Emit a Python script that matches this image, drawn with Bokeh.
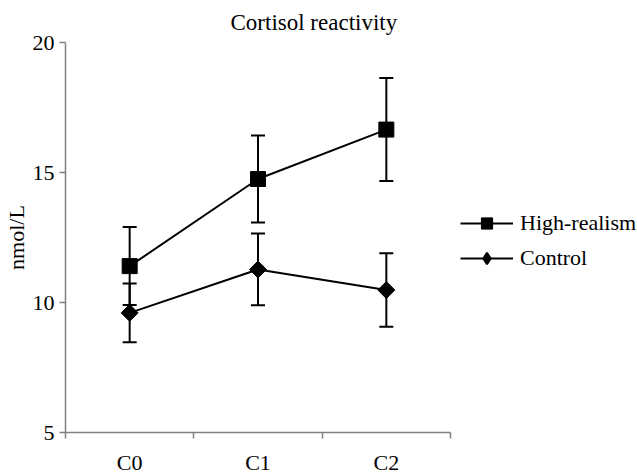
import math
from bokeh.plotting import figure
from bokeh.models import (Range1d, FixedTicker, Whisker, TeeHead, ColumnDataSource,
                          Legend, LegendItem)
from bokeh.embed import file_html
from bokeh.resources import INLINE

categories = ["C0", "C1", "C2"]
high_mean = [11.4, 14.75, 16.65]
high_err = [1.5, 1.67, 1.98]
ctrl_mean = [9.6, 11.27, 10.48]
ctrl_err = [1.13, 1.38, 1.41]
y_ticks = [5, 10, 15, 20]

FONT = "Liberation Serif"
AXIS_GRAY = "#808080"
FS = "22px"

xs = [i + 0.5 for i in range(len(categories))]
bounds = [i for i in range(len(categories) + 1)]

high_src = ColumnDataSource(dict(
    x=xs, y=high_mean,
    upper=[m + e for m, e in zip(high_mean, high_err)],
    lower=[m - e for m, e in zip(high_mean, high_err)]))
ctrl_src = ColumnDataSource(dict(
    x=xs, y=ctrl_mean,
    upper=[m + e for m, e in zip(ctrl_mean, ctrl_err)],
    lower=[m - e for m, e in zip(ctrl_mean, ctrl_err)]))

p = figure(frame_width=385, frame_height=390,
           x_range=Range1d(0, len(categories)), y_range=Range1d(5, 20),
           output_backend="svg", toolbar_location=None,
           min_border_left=57, min_border_top=41, min_border_bottom=40,
           min_border_right=0)

p.title.text = "Cortisol reactivity"
p.title.text_font = FONT
p.title.text_font_size = "23px"
p.title.text_font_style = "normal"
p.title.text_color = "black"
p.title.align = "left"
p.title.offset = 165
p.title.standoff = 15

p.xgrid.visible = False
p.ygrid.visible = False
p.outline_line_color = None

for src in (high_src, ctrl_src):
    w = Whisker(base="x", upper="upper", lower="lower", source=src,
                line_color="black", line_width=2,
                upper_head=TeeHead(size=14, line_color="black", line_width=2),
                lower_head=TeeHead(size=14, line_color="black", line_width=2))
    p.add_layout(w)

hl = p.line("x", "y", source=high_src, line_color="black", line_width=2)
hm = p.scatter("x", "y", source=high_src, marker="square", size=15,
               fill_color="black", line_color="black")
cl = p.line("x", "y", source=ctrl_src, line_color="black", line_width=2)
# plain diamond (hidden under the rotated square) serves as the legend swatch
cm_key = p.scatter("x", "y", source=ctrl_src, marker="diamond", size=12,
                   fill_color="black", line_color="black", line_width=2)
cm = p.scatter("x", "y", source=ctrl_src, marker="square", size=12,
               angle=math.pi / 4, fill_color="black", line_color="black")

# axes
ya = p.yaxis[0]
ya.ticker = FixedTicker(ticks=y_ticks)
ya.axis_line_color = AXIS_GRAY
ya.axis_line_width = 1.5
ya.major_tick_line_color = AXIS_GRAY
ya.major_tick_line_width = 1.5
ya.major_tick_out = 6
ya.major_tick_in = 0
ya.minor_tick_line_color = None
ya.major_label_text_font = FONT
ya.major_label_text_font_size = FS
ya.major_label_text_color = "black"
ya.major_label_standoff = 5
ya.axis_label = "nmol/L"
ya.axis_label_text_font = FONT
ya.axis_label_text_font_size = FS
ya.axis_label_text_font_style = "normal"
ya.axis_label_text_color = "black"
ya.axis_label_standoff = 1

xa = p.xaxis[0]
xa.ticker = FixedTicker(ticks=xs, minor_ticks=bounds)
xa.major_label_overrides = {x: c for x, c in zip(xs, categories)}
xa.axis_line_color = AXIS_GRAY
xa.axis_line_width = 1.5
xa.major_tick_line_color = None
xa.major_tick_out = 0
xa.major_tick_in = 0
xa.minor_tick_line_color = AXIS_GRAY
xa.minor_tick_line_width = 1.5
xa.minor_tick_out = 6
xa.minor_tick_in = 0
xa.major_label_text_font = FONT
xa.major_label_text_font_size = FS
xa.major_label_text_color = "black"
xa.major_label_standoff = 11

legend = Legend(items=[LegendItem(label="High-realism", renderers=[hl, hm]),
                       LegendItem(label="Control", renderers=[cl, cm_key])],
                location=(10, 160), border_line_color=None,
                background_fill_alpha=0,
                label_text_font=FONT, label_text_font_size=FS,
                label_text_color="black",
                glyph_width=53, glyph_height=28, label_standoff=7,
                spacing=7, padding=0, margin=10)
p.add_layout(legend, "right")

open("out.html", "w").write(file_html(p, INLINE))
